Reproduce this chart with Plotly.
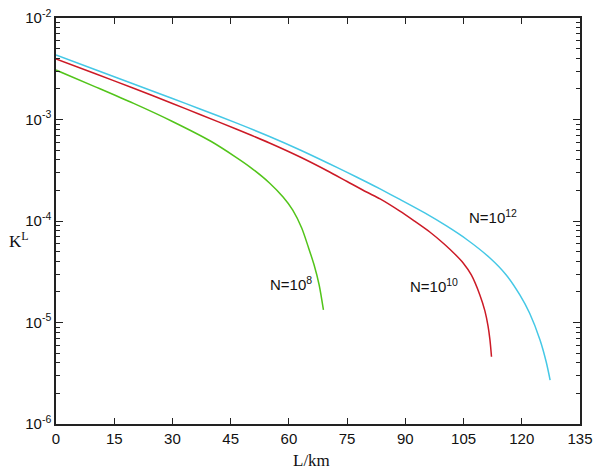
import plotly.graph_objects as go

# Data
L_n8 = [0, 10, 20, 30, 40, 46.4, 50, 55, 58.5, 61, 63.3, 65, 66.5, 67.8, 68.9]
K_n8 = [3.07e-3, 2.11e-3, 1.44e-3, 9.56e-4, 6.07e-4, 4.24e-4, 3.40e-4, 2.37e-4,
        1.72e-4, 1.28e-4, 8.53e-5, 5.54e-5, 3.68e-5, 2.34e-5, 1.33e-5]

L_n10 = [0, 10, 20, 30, 37.1, 46.4, 55, 62.9, 70, 75, 80, 83.5, 88.6, 92, 96.3,
         100, 103, 104.9, 107, 109.2, 110.5, 111.3, 111.8, 112.2]
K_n10 = [3.95e-3, 2.84e-3, 2.03e-3, 1.44e-3, 1.12e-3, 8.06e-4, 5.87e-4, 4.27e-4,
         3.11e-4, 2.45e-4, 1.93e-4, 1.65e-4, 1.25e-4, 1.02e-4, 7.79e-5, 5.93e-5,
         4.62e-5, 3.86e-5, 2.94e-5, 1.87e-5, 1.30e-5, 9.24e-6, 6.73e-6, 4.60e-6]

L_n12 = [0, 10, 20, 30, 37.1, 46.4, 55, 62.9, 70, 75, 80, 83.5, 88.6, 95, 100.6,
         106, 111.8, 116, 119.5, 122, 124.7, 126.3, 127.3]
K_n12 = [4.32e-3, 3.11e-3, 2.24e-3, 1.61e-3, 1.27e-3, 9.26e-4, 6.80e-4, 5.01e-4,
         3.73e-4, 3.01e-4, 2.42e-4, 2.07e-4, 1.63e-4, 1.20e-4, 8.93e-5, 6.50e-5,
         4.32e-5, 2.94e-5, 1.87e-5, 1.24e-5, 6.73e-6, 4.08e-6, 2.71e-6]

x_ticks = [0, 15, 30, 45, 60, 75, 90, 105, 120, 135]
y_tickvals = [1e-6, 1e-5, 1e-4, 1e-3, 1e-2]
y_ticktext = ["10<sup>-6</sup>", "10<sup>-5</sup>", "10<sup>-4</sup>",
              "10<sup>-3</sup>", "10<sup>-2</sup>"]

labels = ["N=10<sup>8</sup>", "N=10<sup>10</sup>", "N=10<sup>12</sup>"]
label_x = [54.6, 90.7, 105.9]
label_logy = [-4.611, -4.631, -3.958]

x_title = "L/km"
y_title = "K<sup>L</sup>"

green = "#52c41a"
red = "#cc1a26"
cyan = "#45c8e6"

fig = go.Figure()
for Lx, Ky, col in [(L_n8, K_n8, green), (L_n10, K_n10, red), (L_n12, K_n12, cyan)]:
    fig.add_trace(go.Scatter(x=Lx, y=Ky, mode="lines",
                             line=dict(color=col, width=1.5, shape="spline", smoothing=0.8),
                             showlegend=False, hoverinfo="skip"))

for t, xx, yy in zip(labels, label_x, label_logy):
    fig.add_annotation(x=xx, y=yy, text=t, showarrow=False, xanchor="left", yanchor="middle",
                       font=dict(family="Liberation Sans, Arial", size=15, color="#111"))

serif = dict(family="Liberation Serif, Times New Roman", size=17, color="#111")
fig.add_annotation(xref="paper", yref="paper", x=0.4876, y=-0.091, text=x_title, showarrow=False,
                   xanchor="center", yanchor="middle", font=serif)
fig.add_annotation(xref="paper", yref="paper", x=-0.07, y=0.453, text=y_title, showarrow=False,
                   xanchor="center", yanchor="middle", font=serif)

axis_common = dict(showline=True, linecolor="#222", linewidth=1.5, mirror="ticks",
                   ticks="inside", tickcolor="#222", tickwidth=1.3, showgrid=False, zeroline=False,
                   automargin=False,
                   tickfont=dict(family="Liberation Sans, Arial", size=15, color="#111"))

fig.update_xaxes(range=[0, 135], tickvals=x_ticks, ticklen=6, **axis_common)
fig.update_yaxes(type="log", range=[-6, -2], tickvals=y_tickvals, ticktext=y_ticktext, ticklen=7,
                 minor=dict(ticks="inside", ticklen=4, tickcolor="#222", tickwidth=1.1, dtick="D1",
                            showgrid=False),
                 **axis_common)

fig.update_layout(width=600, height=473, margin=dict(l=56, r=20, t=18, b=49),
                  paper_bgcolor="white", plot_bgcolor="white")

fig.write_html("out.html")
